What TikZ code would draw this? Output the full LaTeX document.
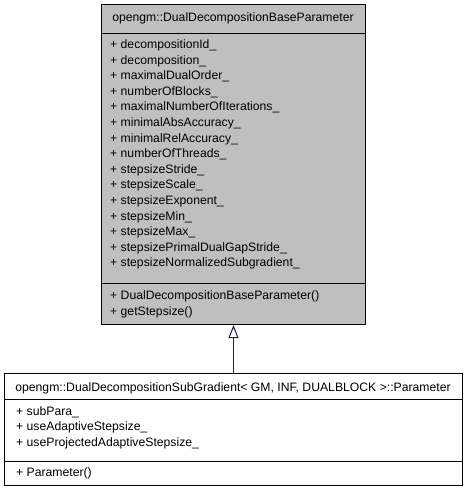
\documentclass[tikz,border=0pt]{standalone}
\usepackage{fontspec}
\setmainfont{Liberation Sans}
\usetikzlibrary{arrows.meta}
\definecolor{boxgray}{HTML}{BFBFBF}
\definecolor{edgeblue}{HTML}{191970}
\tikzset{
  umlbox/.style={draw=black, line width=1pt, rectangle, inner sep=0pt, anchor=north west},
  txt/.style={inner sep=0pt, anchor=base west, font=\fontsize{12.2}{15}\selectfont},
  hdr/.style={inner sep=0pt, anchor=base, font=\fontsize{12.2}{15}\selectfont},
  sep/.style={draw=black, line width=1pt},
  inherit/.style={draw=edgeblue, line width=1pt, -{Triangle[open, length=13pt, width=10pt, line width=1pt]}}
}
\begin{document}
\begin{tikzpicture}[x=1pt,y=-1pt]
\useasboundingbox (0,0) rectangle (467,491);
% top class
\node[umlbox, fill=boxgray, minimum width=264pt, minimum height=320pt] (base) at (101,4) {};
\coordinate (s1l) at (101,33); \coordinate (s1r) at (365,33);
\coordinate (s2l) at (101,283); \coordinate (s2r) at (365,283);
\draw[sep] (s1l) -- (s1r);
\draw[sep] (s2l) -- (s2r);
\node[hdr] (bt) at (233,21) {opengm::DualDecompositionBaseParameter};
\foreach \t [count=\i from 0] in {decompositionId\_, decomposition\_, maximalDualOrder\_, numberOfBlocks\_, maximalNumberOfIterations\_, minimalAbsAccuracy\_, minimalRelAccuracy\_, numberOfThreads\_, stepsizeStride\_, stepsizeScale\_, stepsizeExponent\_, stepsizeMin\_, stepsizeMax\_, stepsizePrimalDualGapStride\_, stepsizeNormalizedSubgradient\_}{
  \node[txt] (ba\i) at (110,{48.5+15.6*\i}) {+ \t};
}
\node[txt] (bm0) at (110,299) {+ DualDecompositionBaseParameter()};
\node[txt] (bm1) at (110,315) {+ getStepsize()};
% bottom class
\node[umlbox, fill=white, minimum width=458pt, minimum height=112pt] (sub) at (4,373) {};
\coordinate (t1l) at (4,399); \coordinate (t1r) at (462,399);
\coordinate (t2l) at (4,461); \coordinate (t2r) at (462,461);
\draw[sep] (t1l) -- (t1r);
\draw[sep] (t2l) -- (t2r);
\node[hdr] (st) at (233,391) {opengm::DualDecompositionSubGradient< GM, INF, DUALBLOCK >::Parameter};
\node[txt] (sa0) at (16,415) {+ subPara\_};
\node[txt] (sa1) at (16,430.5) {+ useAdaptiveStepsize\_};
\node[txt] (sa2) at (16,446) {+ useProjectedAdaptiveStepsize\_};
\node[txt] (sm0) at (16,476) {+ Parameter()};
% inheritance
\draw[inherit] (sub.north) -- (base.south);
\end{tikzpicture}
\end{document}
